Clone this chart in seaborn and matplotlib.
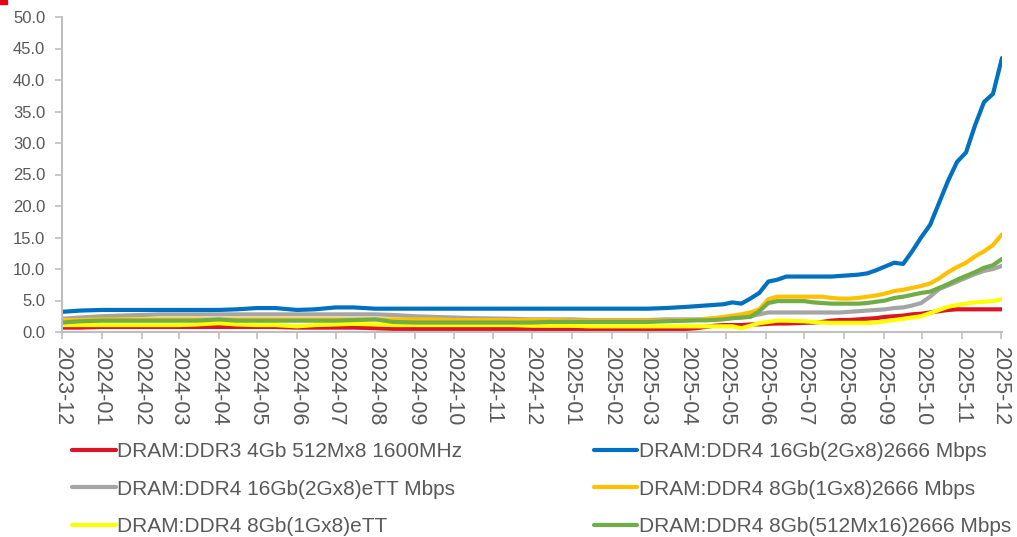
import matplotlib
matplotlib.use("Agg")
import matplotlib.pyplot as plt
import matplotlib.dates as mdates
from matplotlib.patches import Rectangle
import seaborn as sns
import pandas as pd

# ---------------- data ----------------
dates = [
    "2023-12-01", "2023-12-15", "2024-01-01", "2024-01-15", "2024-02-01", "2024-02-15",
    "2024-03-01", "2024-03-15", "2024-04-01", "2024-04-15", "2024-05-01", "2024-05-15",
    "2024-06-01", "2024-06-15", "2024-07-01", "2024-07-15", "2024-08-01", "2024-08-15",
    "2024-09-01", "2024-09-15", "2024-10-01", "2024-10-15", "2024-11-01", "2024-11-15",
    "2024-12-01", "2024-12-15", "2025-01-01", "2025-01-15", "2025-02-01", "2025-02-15",
    "2025-03-01", "2025-03-15", "2025-04-01",
    "2025-04-08", "2025-04-15", "2025-04-22", "2025-04-29", "2025-05-06", "2025-05-13",
    "2025-05-20", "2025-05-27", "2025-06-03", "2025-06-10", "2025-06-17", "2025-06-24",
    "2025-07-01", "2025-07-08", "2025-07-15", "2025-07-22", "2025-07-29", "2025-08-05",
    "2025-08-12", "2025-08-19", "2025-08-26", "2025-09-02", "2025-09-09", "2025-09-16",
    "2025-09-23", "2025-09-30", "2025-10-07", "2025-10-14", "2025-10-21", "2025-10-28",
    "2025-11-04", "2025-11-11", "2025-11-18", "2025-11-25", "2025-12-02",
]

names = [
    "DRAM:DDR3 4Gb 512Mx8 1600MHz",
    "DRAM:DDR4 16Gb(2Gx8)2666 Mbps",
    "DRAM:DDR4 16Gb(2Gx8)eTT Mbps",
    "DRAM:DDR4 8Gb(1Gx8)2666 Mbps",
    "DRAM:DDR4 8Gb(1Gx8)eTT",
    "DRAM:DDR4 8Gb(512Mx16)2666 Mbps",
]

ddr3_4gb = [
    0.7, 0.7, 0.8, 0.8, 0.8, 0.8, 0.8, 0.8, 0.8, 0.8, 0.8, 0.8,
    0.7, 0.7, 0.7, 0.7, 0.6, 0.5, 0.5, 0.5, 0.5, 0.5, 0.5, 0.5,
    0.5, 0.4, 0.4, 0.4, 0.4, 0.4, 0.4, 0.4, 0.5,
    0.6, 0.8, 1.0, 1.1, 1.1, 1.1, 1.2, 1.2, 1.3, 1.35, 1.35, 1.4,
    1.45, 1.5, 1.6, 1.8, 1.9, 1.9, 2.0, 2.1, 2.2, 2.4, 2.5, 2.6,
    2.8, 2.9, 3.1, 3.3, 3.5, 3.6, 3.6, 3.6, 3.6, 3.6, 3.6,
]

ddr4_16gb_2666 = [
    3.2, 3.4, 3.5, 3.5, 3.5, 3.5, 3.5, 3.5, 3.5, 3.6, 3.8, 3.8,
    3.5, 3.6, 3.9, 3.9, 3.7, 3.7, 3.7, 3.7, 3.7, 3.7, 3.7, 3.7,
    3.7, 3.7, 3.7, 3.7, 3.7, 3.7, 3.7, 3.8, 4.0,
    4.1, 4.2, 4.3, 4.4, 4.7, 4.5, 5.3, 6.2, 8.0, 8.3, 8.8, 8.8,
    8.8, 8.8, 8.8, 8.8, 8.9, 9.0, 9.1, 9.3, 9.8, 10.4, 11.0, 10.8,
    12.8, 15.0, 17.0, 20.5, 24.0, 27.0, 28.5, 32.8, 36.5, 37.8, 43.5,
]

ddr4_16gb_ett = [
    2.1, 2.3, 2.5, 2.6, 2.7, 2.8, 2.8, 2.8, 2.8, 2.8, 2.8, 2.8,
    2.8, 2.8, 2.8, 2.8, 2.8, 2.7, 2.5, 2.4, 2.3, 2.2, 2.15, 2.1,
    2.0, 2.0, 2.0, 1.9, 1.9, 1.9, 1.9, 2.0, 2.0,
    2.0, 2.0, 2.1, 2.1, 2.2, 2.3, 2.5, 2.8, 3.1, 3.1, 3.1, 3.1,
    3.1, 3.1, 3.1, 3.1, 3.1, 3.2, 3.3, 3.4, 3.5, 3.6, 3.8, 3.9,
    4.2, 4.6, 5.6, 6.8, 7.4, 8.0, 8.6, 9.2, 9.7, 10.0, 10.5,
]

ddr4_8gb_2666 = [
    1.9, 1.9, 2.0, 2.0, 2.0, 2.0, 2.0, 2.0, 2.0, 2.0, 2.0, 2.0,
    2.0, 2.0, 2.0, 2.0, 2.0, 2.0, 2.0, 2.0, 1.9, 1.9, 1.9, 1.9,
    1.9, 1.9, 1.8, 1.8, 1.8, 1.8, 1.8, 1.8, 1.9,
    1.9, 2.1, 2.2, 2.4, 2.6, 2.8, 3.1, 3.6, 5.2, 5.6, 5.6, 5.6,
    5.6, 5.6, 5.6, 5.4, 5.3, 5.3, 5.4, 5.6, 5.8, 6.1, 6.5, 6.7,
    7.0, 7.3, 7.7, 8.5, 9.5, 10.3, 11.0, 12.0, 12.8, 13.8, 15.5,
]

ddr4_8gb_ett = [
    1.1, 1.1, 1.1, 1.1, 1.1, 1.1, 1.1, 1.2, 1.4, 1.2, 1.1, 1.1,
    0.9, 1.1, 1.2, 1.3, 1.2, 1.1, 1.1, 1.1, 1.1, 1.1, 1.1, 1.1,
    1.0, 1.0, 1.0, 0.9, 0.9, 0.9, 0.9, 0.9, 0.9,
    0.9, 0.9, 0.9, 0.9, 0.9, 0.6, 1.0, 1.4, 1.6, 1.8, 1.8, 1.75,
    1.7, 1.6, 1.5, 1.45, 1.45, 1.45, 1.45, 1.45, 1.5, 1.7, 1.9, 2.1,
    2.3, 2.5, 3.0, 3.5, 4.0, 4.3, 4.5, 4.7, 4.8, 4.9, 5.2,
]

ddr4_8gb_512mx16 = [
    1.5, 1.7, 1.8, 1.8, 1.8, 1.8, 1.8, 1.8, 2.0, 1.8, 1.8, 1.8,
    1.8, 1.8, 1.8, 1.9, 2.0, 1.6, 1.5, 1.5, 1.5, 1.5, 1.5, 1.5,
    1.5, 1.6, 1.6, 1.6, 1.6, 1.6, 1.6, 1.7, 1.8,
    1.85, 1.85, 1.9, 2.0, 2.2, 2.3, 2.4, 3.3, 4.6, 4.9, 4.9, 4.9,
    4.9, 4.7, 4.6, 4.5, 4.5, 4.5, 4.5, 4.6, 4.8, 5.0, 5.4, 5.6,
    5.9, 6.2, 6.4, 7.0, 7.6, 8.3, 8.9, 9.5, 10.2, 10.6, 11.6,
]

series_values = [ddr3_4gb, ddr4_16gb_2666, ddr4_16gb_ett,
                 ddr4_8gb_2666, ddr4_8gb_ett, ddr4_8gb_512mx16]
colors = ["#DA1626", "#0070C0", "#A5A5A5", "#FFC000", "#FFFF00", "#70AD47"]

frames = []
for name, vals in zip(names, series_values):
    frames.append(pd.DataFrame({"date": pd.to_datetime(dates), "value": vals, "series": name}))
df = pd.concat(frames, ignore_index=True)

# ---------------- plot ----------------
sns.set_theme(style="white")
plt.rcParams["font.family"] = ["Liberation Sans", "DejaVu Sans"]

fig = plt.figure(figsize=(10.17, 5.37), dpi=100)
ax = fig.add_axes([62 / 1017, 1 - 332 / 537, (1002 - 62) / 1017, (332 - 17) / 537])

sns.lineplot(data=df, x="date", y="value", hue="series", hue_order=names,
             palette=colors, linewidth=3.0, ax=ax, legend=False, estimator=None,
             sort=False)

ax.set_xlim(pd.Timestamp("2023-12-01"), pd.Timestamp("2025-12-02"))
ax.set_ylim(0, 50)
ax.set_yticks([i * 5 for i in range(11)])
ax.yaxis.set_major_formatter(matplotlib.ticker.FormatStrFormatter("%.1f"))
ax.xaxis.set_major_locator(mdates.MonthLocator())
ax.xaxis.set_major_formatter(mdates.DateFormatter("%Y-%m"))
ax.set_xlabel("")
ax.set_ylabel("")

for s in ["top", "right"]:
    ax.spines[s].set_visible(False)
for s in ["left", "bottom"]:
    ax.spines[s].set_color("#BFBFBF")
    ax.spines[s].set_linewidth(1.5)

ax.tick_params(axis="both", which="major", direction="out", length=5, width=1.2,
               color="#BFBFBF", labelcolor="#595959")
ax.tick_params(axis="y", labelsize=12, pad=7, left=True)
ax.tick_params(axis="x", labelsize=15.5, pad=6, bottom=True)
for lab in ax.get_xticklabels():
    lab.set_rotation(270)
    lab.set_ha("center")
    lab.set_va("top")

# legend filled row by row (matplotlib fills columns first, so reorder)
order = [0, 2, 4, 1, 3, 5]
handles = [plt.Line2D([], [], color=colors[i], linewidth=3.0) for i in order]
labels = [names[i] for i in order]
leg = fig.legend(handles, labels, ncol=2, loc="upper left",
                 bbox_to_anchor=(72 / 1017, 1 - 442 / 537),
                 frameon=False, fontsize=15, handlelength=2.1, handletextpad=0.08,
                 columnspacing=6.3, labelspacing=0.9, borderaxespad=0, borderpad=0)
for t in leg.get_texts():
    t.set_color("#595959")

fig.patches.append(Rectangle((0, 1 - 4 / 537), 7 / 1017, 4 / 537, transform=fig.transFigure,
                             color="#E60012", zorder=10))

fig.savefig("out.png", dpi=100)
